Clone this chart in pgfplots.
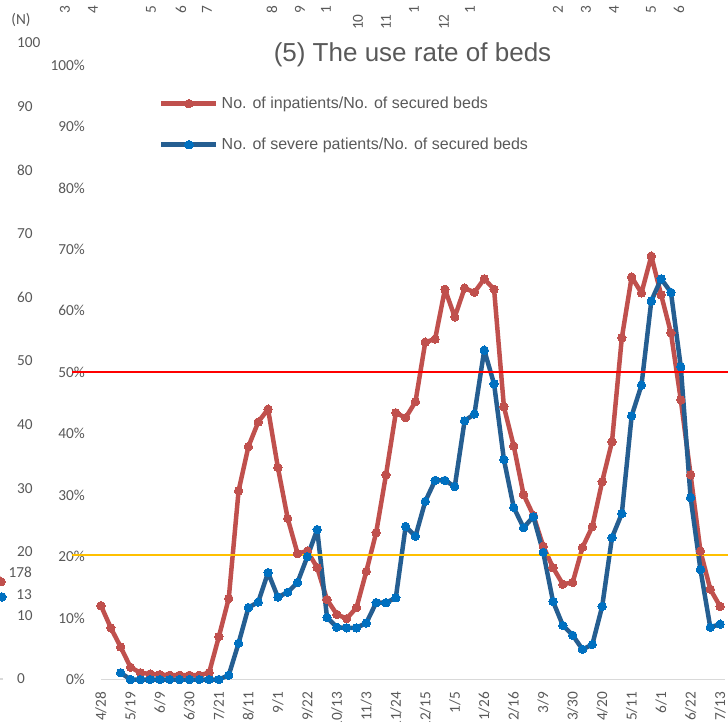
\documentclass[border=0pt]{standalone}
\usepackage{pgfplots}
\usepackage{pgfplotstable}
\pgfplotsset{compat=1.18}
\usepackage{fontspec}
\setmainfont{Liberation Sans}
\newfontfamily\carlito{Carlito}
\definecolor{tgray}{HTML}{595959}
\definecolor{axgray}{HTML}{D9D9D9}
\definecolor{redline}{HTML}{C0504D}
\definecolor{blueline}{HTML}{255E91}
\definecolor{bluemark}{HTML}{0070C0}
\definecolor{refred}{HTML}{FF0000}
\definecolor{refyellow}{HTML}{FFC000}

\pgfplotstableread{
i v
0 12.0
1 8.4
2 5.3
3 2.0
4 1.1
5 0.9
6 0.8
7 0.7
8 0.7
9 0.7
10 0.7
11 1.1
12 7.0
13 13.2
14 30.7
15 37.9
16 41.9
17 44.0
18 34.5
19 26.2
20 20.5
21 20.9
22 18.2
23 13.0
24 10.6
25 9.9
26 11.7
27 17.6
28 23.9
29 33.3
30 43.4
31 42.6
32 45.2
33 54.9
34 55.4
35 63.5
36 59.0
37 63.7
38 63.0
39 65.2
40 63.5
41 44.4
42 38.0
43 30.1
44 26.7
45 21.7
46 18.2
47 15.5
48 15.8
49 21.5
50 24.9
51 32.2
52 38.7
53 55.6
54 65.5
55 62.9
56 68.9
57 62.6
58 56.4
59 45.5
60 33.3
61 20.9
62 14.7
63 11.9
}\redtab

\pgfplotstableread{
i v
2 1.1
3 0
4 0
5 0
6 0
7 0
8 0
9 0
10 0
11 0
12 0
13 0.7
14 5.9
15 11.7
16 12.6
17 17.4
18 13.4
19 14.2
20 15.8
21 20.0
22 24.4
23 10.1
24 8.5
25 8.4
26 8.4
27 9.2
28 12.5
29 12.5
30 13.3
31 24.9
32 23.3
33 29.0
34 32.4
35 32.4
36 31.4
37 42.1
38 43.2
39 53.6
40 48.1
41 35.8
42 28.0
43 24.7
44 26.5
45 20.7
46 12.7
47 8.8
48 7.2
49 4.9
50 5.7
51 11.9
52 23.1
53 27.0
54 42.9
55 47.9
56 61.6
57 65.2
58 63.0
59 50.9
60 29.6
61 17.9
62 8.5
63 9.0
}\bluetab

\pgfplotstableread{
x v
-14 19
1 15.3
}\nredtab

\pgfplotstableread{
x v
2 12.9
}\nbluetab

\newcommand{\tickfont}{\carlito\fontsize{15.3}{17}\selectfont}
\newcommand{\legfont}{\fontsize{16}{19}\selectfont}

\begin{document}
\begin{tikzpicture}[x=1pt,y=1pt]
\useasboundingbox (0,0) rectangle (728,721);
\begin{axis}[
  at={(101pt,41.5pt)}, anchor=south west, scale only axis,
  width=624pt, height=614.5pt,
  xmin=0, xmax=63.5, ymin=0, ymax=100,
  clip=false,
  axis x line*=bottom, axis y line*=left,
  x axis line style={draw=axgray, line width=1.3pt, -},
  y axis line style={draw=none, -},
  major tick length=0pt,
  /pgf/number format/assume math mode=true,
  xtick={0,3,...,63},
  xticklabels={4/28,5/19,6/9,6/30,7/21,8/11,9/1,9/22,10/13,11/3,11/24,12/15,1/5,1/26,2/16,3/9,3/30,4/20,5/11,6/1,6/22,7/13},
  xticklabel style={yshift=-12pt, rotate=90, anchor=east, inner sep=0pt, font=\tickfont, text=tgray},
  ytick={0,10,...,100},
  yticklabel={\pgfmathprintnumber{\tick}\%},
  yticklabel style={anchor=east, inner sep=0pt, xshift=-16pt, font=\tickfont, text=tgray},
  legend style={at={(axis description cs:0.093,0.953)}, anchor=north west, draw=none, fill=none,
    font=\legfont, text=tgray, inner sep=0pt, row sep=22pt,
    nodes={inner sep=3pt}},
  legend cell align=left,
  legend image code/.code={\draw[mark repeat=2,mark phase=2,#1] plot coordinates {(0pt,0pt) (27.5pt,0pt) (55pt,0pt)};},
]
\addplot[redline, line width=4.5pt, line join=round, mark=*, mark size=4.2pt, mark options={fill=redline, draw=redline, line width=0pt}] table[x=i, y=v] {\redtab};
\addlegendentry{No. of inpatients/No. of secured beds}
\addplot[blueline, line width=4.5pt, line join=round, mark=*, mark size=4.2pt, mark options={fill=bluemark, draw=bluemark, line width=0pt}] table[x=i, y=v] {\bluetab};
\addlegendentry{No. of severe patients/No. of secured beds}
\draw[refred, line width=1.8pt] (axis cs:-2.95,50) -- (axis cs:66,50);
\draw[refyellow, line width=1.8pt] (axis cs:-2.95,20.3) -- (axis cs:66,20.3);
\end{axis}

\begin{axis}[
  at={(0pt,42pt)}, anchor=south west, scale only axis,
  width=10pt, height=636pt, xmin=0, xmax=10, ymin=0, ymax=100,
  axis lines=none, clip=false, ticks=none]
\addplot[redline, line width=4.5pt, mark=*, mark size=4.2pt, mark options={fill=redline, draw=redline, line width=0pt}] table[x=x, y=v] {\nredtab};
\addplot[blueline, line width=4.5pt, mark=*, mark size=4.2pt, mark options={fill=bluemark, draw=bluemark, line width=0pt}] table[x=x, y=v] {\nbluetab};
\draw[axgray, line width=1.3pt] (axis cs:-5,0) -- (axis cs:3,0);
\end{axis}

% secondary (N) axis labels of the neighbouring chart
\foreach \k in {0,1,...,10}{
  \pgfmathtruncatemacro{\lab}{10*\k}
  \node[anchor=west, inner sep=0pt, font=\tickfont, text=tgray] at (17, {721-(679-63.6*\k)}) {\lab};
}
\node[anchor=east, inner sep=0pt, font=\tickfont, text=tgray] at (32, 721-572) {178};
\node[anchor=east, inner sep=0pt, font=\tickfont, text=tgray] at (32, 721-595) {13};
\node[inner sep=0pt, font=\tickfont, text=tgray] at (21, 721-20) {(N)};

% cut-off tick labels of the chart above
\foreach \x/\t/\b in {65/3/14,93/4/14,151/5/14,181/6/14,207/7/14,272/8/14,300/9/14,326/1/14,358/10/30,386/11/30,414/1/14,444/12/30,470/1/14,558/2/14,586/3/14,614/4/14,651/5/14,679/6/14}{
  \node[rotate=90, anchor=west, inner sep=0pt, font=\tickfont, text=tgray] at (\x, 721-\b) {\t};
}

% title
\node[font=\fontsize{26}{30}\selectfont, text=tgray, inner sep=0pt] at (412.5, 721-55) {(5) The use rate of beds};
\end{tikzpicture}
\end{document}
